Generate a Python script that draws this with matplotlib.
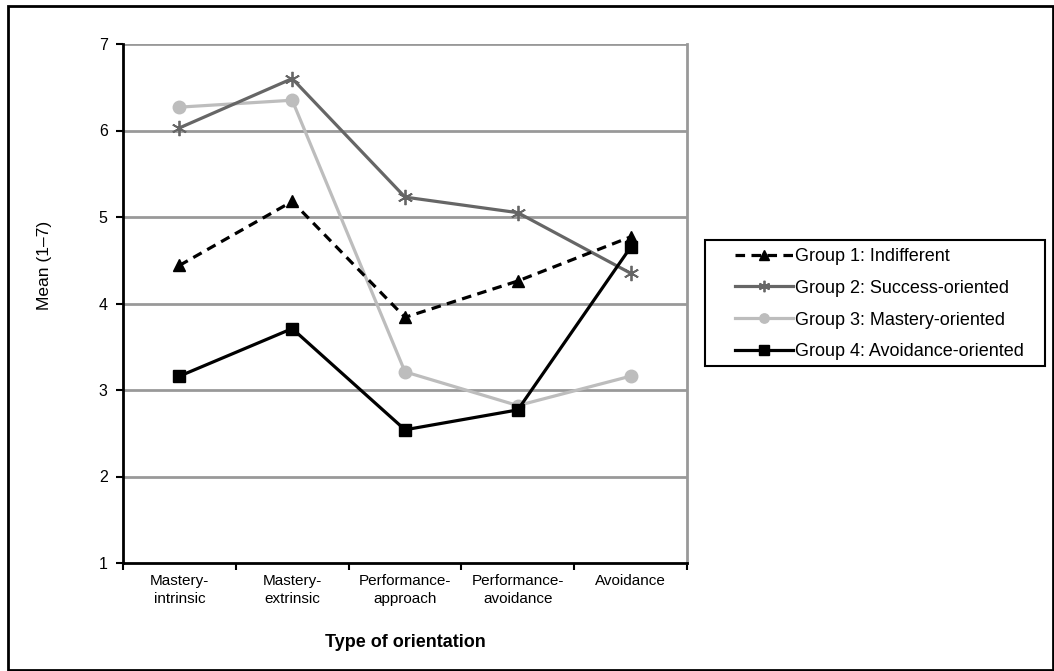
import matplotlib
matplotlib.use("Agg")
import matplotlib.pyplot as plt
from matplotlib.patches import Rectangle

plt.rcParams['font.family'] = ['Liberation Sans', 'DejaVu Sans']

categories = ["Mastery-\nintrinsic", "Mastery-\nextrinsic", "Performance-\napproach",
              "Performance-\navoidance", "Avoidance"]
group1 = [4.44, 5.18, 3.84, 4.26, 4.77]
group2 = [6.03, 6.60, 5.23, 5.05, 4.35]
group3 = [6.27, 6.35, 3.21, 2.82, 3.16]
group4 = [3.16, 3.71, 2.54, 2.77, 4.65]
labels = ["Group 1: Indifferent", "Group 2: Success-oriented",
          "Group 3: Mastery-oriented", "Group 4: Avoidance-oriented"]
yticks = [1, 2, 3, 4, 5, 6, 7]

fig = plt.figure(figsize=(10.54, 6.71), dpi=100)
W, H = 1054, 671
ax = fig.add_axes([123 / W, 1 - 563 / H, (687 - 123) / W, (563 - 44) / H])

x = list(range(len(categories)))
lw = 2.3
ax.plot(x, group1, color='black', linestyle=(0, (3, 2)), linewidth=lw, marker='^',
        markersize=9, label=labels[0], zorder=5)
ax.plot(x, group2, color='#666666', linewidth=lw, marker=(6, 2, 0),
        markersize=11, markeredgewidth=1.3, label=labels[1], zorder=4)
ax.plot(x, group3, color='#bdbdbd', linewidth=lw, marker='o',
        markersize=9, label=labels[2], zorder=3)
ax.plot(x, group4, color='black', linewidth=lw, marker='s',
        markersize=9, label=labels[3], zorder=6)

ax.set_xlim(-0.5, len(categories) - 0.5)
ax.set_ylim(1, 7)
ax.set_yticks(yticks)
ax.set_yticklabels([str(t) for t in yticks], fontsize=11.5)
for t in yticks[1:]:
    ax.axhline(t, color='#999999', linewidth=2, zorder=1)

ax.set_xticks(x)
ax.set_xticklabels(categories, fontsize=11, linespacing=1.35)
ax.tick_params(axis='x', which='major', length=0, pad=8)
ax.set_xticks([i - 0.5 for i in range(len(categories) + 1)], minor=True)
ax.tick_params(axis='x', which='minor', length=5, width=1.5, direction='out')
ax.tick_params(axis='y', length=5, width=1.5, direction='out', pad=6)

ax.spines['top'].set_visible(False)
ax.spines['right'].set_color('#999999')
ax.spines['right'].set_linewidth(2)
for s in ['left', 'bottom']:
    ax.spines[s].set_color('black')
    ax.spines[s].set_linewidth(2)

fig.text(45 / W, 1 - 265 / H, "Mean (1–7)", rotation=90, fontsize=12.5,
         ha='center', va='center')
ax.set_xlabel("Type of orientation", fontsize=13, fontweight='bold', labelpad=20)

leg = fig.legend(loc='upper left', bbox_to_anchor=(735 / W, 1 - 248 / H),
                 frameon=False, fontsize=13, borderpad=0, borderaxespad=0,
                 handlelength=3.2, labelspacing=0.82, handletextpad=0.15,
                 markerscale=0.75)
fig.patches.append(Rectangle((705 / W, 1 - 366 / H), (1045 - 705) / W, (366 - 240) / H,
                             transform=fig.transFigure, fill=False,
                             edgecolor='black', linewidth=1.5))

fig.patches.append(Rectangle((8 / W, 1 / H), (1053 - 8) / W, (665 - 1) / H,
                             transform=fig.transFigure, fill=False,
                             edgecolor='black', linewidth=2))

fig.savefig("out.png", dpi=100)
